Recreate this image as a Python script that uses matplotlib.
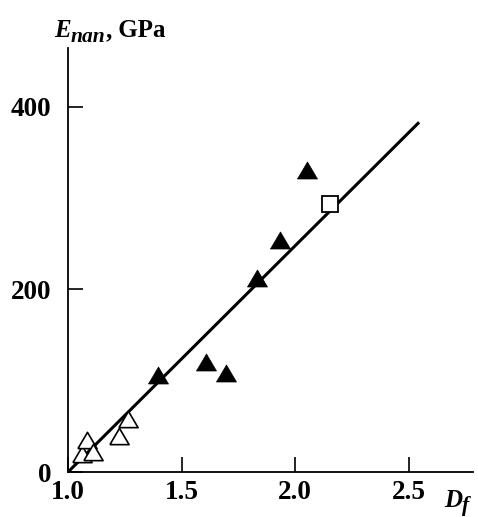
import numpy as np
import matplotlib.pyplot as plt

plt.rcParams['font.family'] = 'Liberation Serif'
plt.rcParams['font.weight'] = 'bold'

# nanocomposites (filled triangles)
df_filled = [1.395, 1.607, 1.695, 1.831, 1.933, 2.051]
e_filled = [106, 120, 109, 213, 254, 331]

# open triangles
df_open = [1.062, 1.082, 1.11, 1.224, 1.264]
e_open = [20, 35, 22, 40, 58]

# square point
df_sq = [2.151]
e_sq = [294]

# linear correlation
df_line = [1.0, 2.54]
e_line = [0, 382]

tri = [(-1, -0.85), (1, -0.85), (0, 0.85), (-1, -0.85)]

W, H = 478, 517
fig = plt.figure(figsize=(W / 100, H / 100), dpi=100)
ax = fig.add_axes([0.1423, 0.0870, 0.8472, 0.8202])

ax.plot(df_line, e_line, color='black', lw=2.2, zorder=2)
ax.plot(df_filled, e_filled, ls='none', marker=tri, ms=14.4,
        mfc='black', mec='black', mew=0.5, zorder=3)
ax.plot(df_open, e_open, ls='none', marker=tri, ms=13.8,
        mfc='white', mec='black', mew=1.2, zorder=3)
ax.plot(df_sq, e_sq, ls='none', marker='s', ms=11.5,
        mfc='white', mec='black', mew=1.3, zorder=3)

ax.set_xlim(1.0, 2.782)
ax.set_ylim(0, 464.6)
ax.set_xticks([1.0, 1.5, 2.0, 2.5])
ax.set_xticklabels(['1.0', '1.5', '2.0', '2.5'])
ax.set_yticks([0, 200, 400])
ax.spines['top'].set_visible(False)
ax.spines['right'].set_visible(False)
for s in ('left', 'bottom'):
    ax.spines[s].set_linewidth(1.3)
ax.tick_params(axis='both', direction='in', length=11, width=1.2,
               labelsize=19.5)
ax.tick_params(axis='x', pad=6)
ax.tick_params(axis='y', pad=12)


def label_chain(x0, y0, pieces):
    # pieces: (text, size, italic, drop in px below baseline)
    r = fig.canvas.get_renderer()
    x = x0
    for txt, size, italic, drop in pieces:
        t = fig.text(x / W, 1 - (y0 + drop) / H, txt, fontsize=size,
                     style='italic' if italic else 'normal',
                     ha='left', va='baseline')
        x += t.get_window_extent(r).width


label_chain(54, 37, [('E', 18, True, 0), ('nan', 15.5, True, 5),
                     (',', 18, False, 0), (' GPa', 18, False, 0)])
label_chain(444, 507, [('D', 18, True, 0), ('f', 15.5, True, 4)])

fig.savefig('out.png', dpi=100)
